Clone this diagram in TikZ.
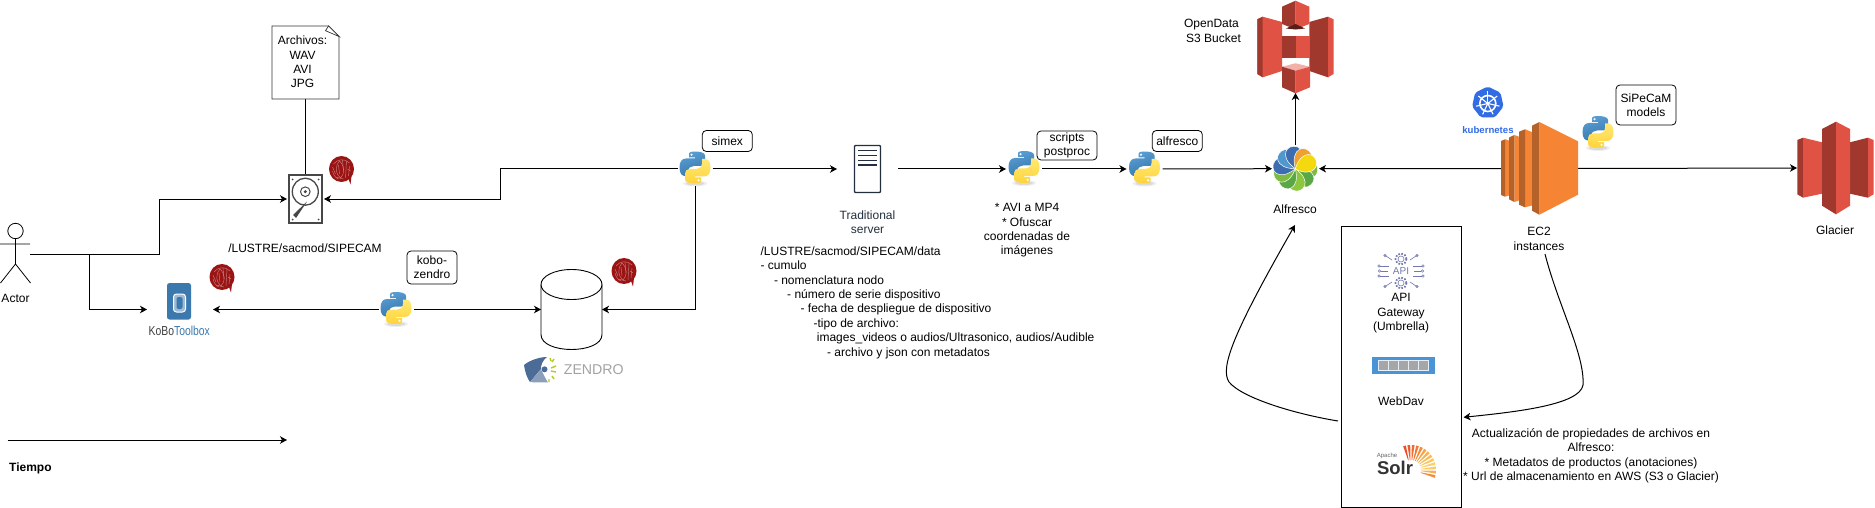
\documentclass[tikz,border=0pt]{standalone}
\usepackage{fontspec}
\usepackage{graphicx}
\setmainfont{Liberation Sans}
\usetikzlibrary{arrows.meta}
\definecolor{awsr}{HTML}{E05243}
\definecolor{awsd}{HTML}{A0382E}
\definecolor{awsp}{HTML}{F2B0A8}
\definecolor{ecl}{HTML}{F58534}
\definecolor{ecd}{HTML}{B5622A}
\definecolor{navy}{HTML}{232F3E}
\definecolor{pyb}{HTML}{3776AB}
\definecolor{pybl}{HTML}{5A9FD4}
\definecolor{pyy}{HTML}{FFD43B}
\definecolor{pyyl}{HTML}{FFE873}
\definecolor{seal}{HTML}{9A1414}
\definecolor{kobo}{HTML}{3B78AE}
\definecolor{kube}{HTML}{326CE5}
\definecolor{apic}{HTML}{7478AE}
\definecolor{wd}{HTML}{4A94D6}
\definecolor{zbl}{HTML}{4C6C98}
\definecolor{zgr}{HTML}{B5CC18}
\definecolor{alfA}{HTML}{4F97CC}
\definecolor{alfB}{HTML}{3D6CB0}
\definecolor{alfC}{HTML}{F0A030}
\definecolor{alfD}{HTML}{F5D90F}
\definecolor{alfE}{HTML}{8DC63F}
\definecolor{alfF}{HTML}{5AA845}
\definecolor{alfG}{HTML}{7DBB42}
\tikzset{
  txt/.style={font=\fontsize{12}{14.4}\selectfont,align=center,inner sep=0pt,text=black,yshift=-1pt},
  lbl/.style={draw=black,line width=.8pt,rounded corners=4pt,font=\fontsize{12}{14.4}\selectfont,align=center,inner sep=0pt},
  hit/.style={inner sep=0pt,outer sep=0pt,minimum width=#1},
  conn/.style={line width=1pt,draw=black},
  arr/.style={conn,-{Stealth[length=7pt,width=7.5pt,inset=2pt]}},
  petal/.style={line width=.5pt,draw=white}
}
\newcommand{\pyicon}[2]{%
  \begin{scope}[shift={(#1,#2)}]
    \fill[gray,opacity=.12] (0,16) ellipse (12 and 3);
    \fill[gray,opacity=.18] (0,16) ellipse (9 and 2);
    \shade[left color=pybl,right color=pyb,shading angle=20]
      (-1,-16) .. controls (-7,-16) and (-6,-13) .. (-6,-13) -- (-6,-10) -- (0,-10) -- (0,-9) -- (-9,-9)
      .. controls (-13,-9) and (-15.5,-6) .. (-15.5,0) .. controls (-15.5,6) and (-13,8.5) .. (-10,8.5) -- (-7,8.5) -- (-7,4.5)
      .. controls (-7,0) and (-4,-1.5) .. (-1,-1.5) -- (5,-1.5) .. controls (8,-1.5) and (10,-3) .. (10,-6) -- (10,-12)
      .. controls (10,-15) and (5,-16) .. (-1,-16) -- cycle;
    \fill[white] (-3.5,-12.8) circle (1.2);
    \shade[top color=pyyl,bottom color=pyy]
      (1,16) .. controls (7,16) and (6,13) .. (6,13) -- (6,10) -- (0,10) -- (0,9) -- (9,9)
      .. controls (13,9) and (15.5,6) .. (15.5,0) .. controls (15.5,-6) and (13,-8.5) .. (10,-8.5) -- (7,-8.5) -- (7,-4.5)
      .. controls (7,0) and (4,1.5) .. (1,1.5) -- (-5,1.5) .. controls (-8,1.5) and (-10,3) .. (-10,6) -- (-10,12)
      .. controls (-10,15) and (-5,16) .. (1,16) -- cycle;
    \fill[white] (3.5,12.8) circle (1.2);
  \end{scope}}
\newcommand{\sealicon}[2]{%
  \begin{scope}[shift={(#1,#2)}]
    \fill[seal] (0,0) ellipse (12.5 and 13);
    \fill[seal] (7,10) -- (9,15.5) -- (10,7) -- cycle;
    \begin{scope}[draw=white!45!seal,line width=.45pt]
    \draw (-8,-5) .. controls (-4,-10) and (3,-11) .. (8,-6);
    \draw (-2,-8) .. controls (-7,-2) and (-6,5) .. (-1,9) .. controls (3,5) and (4,-2) .. (-2,-8);
    \draw (5,-8) -- (4,9);
    \draw (-9,2) .. controls (-8,6) and (-6,9) .. (-3,10);
    \draw (8,-3) -- (7,7);
    \draw (-9,-2) -- (-6,5) (-3,-4) -- (-2,5) (1,-9) -- (2,2) (6,0) -- (9,2) (-6,8) -- (2,10);
    \end{scope}
  \end{scope}}
\newcommand{\petalat}[2]{%
  \fill[#1,petal,rotate around={#2:(1295.3,168.7)}]
    (1295.3,168.7) .. controls (1297,177) and (1306,186) .. (1314,180)
    .. controls (1322,172) and (1314,158) .. (1295.3,168.7) -- cycle;}
\begin{document}
\begin{tikzpicture}[x=1pt,y=-1pt]
\useasboundingbox (0,0) rectangle (1875,508);
\fill[white] (0,0) rectangle (1875,508);

% ---------- invisible anchor nodes
\node[hit=29,minimum height=20] (actor) at (15.5,254) {};
\node[hit=37,minimum height=49] (hdd) at (305.5,199) {};
\node[hit=67,minimum height=73] (doc) at (305.5,62.5) {};
\node[hit=66,minimum height=30] (koboN) at (180,309.5) {};
\node[hit=35,minimum height=34] (pyK) at (396.5,309.5) {};
\node[hit=61,minimum height=80] (cyl) at (571.5,309.5) {};
\node[hit=35,minimum height=34] (pyS) at (695,169) {};
\node[hit=61,minimum height=48] (srv) at (867.5,169) {};
\node[hit=36,minimum height=34] (pyP) at (1024,169) {};
\node[hit=36,minimum height=34] (pyA) at (1144.5,169) {};
\node[hit=47,minimum height=47] (alf) at (1295.5,168.7) {};
\node[hit=77,minimum height=92] (s3) at (1295.5,47) {};
\node[hit=77,minimum height=92] (ec2) at (1539.5,168.5) {};
\node[hit=77,minimum height=92] (gla) at (1835.5,168) {};
\coordinate (junc) at (89,254);
\coordinate (bend) at (159,254);
\coordinate (time0) at (7.5,440);
\coordinate (time1) at (287,440);
\coordinate (boxOut) at (1338,421);
\coordinate (alfIn) at (1295,225);
\coordinate (ec2Out) at (1545,254);
\coordinate (boxIn) at (1463.5,417.3);

% ---------- connectors
\draw[conn] (doc.south) -- (hdd.north);
\draw[arr] (actor.east) -- (bend) |- (hdd.west);
\draw[arr] (junc) |- (koboN.west);
\draw[arr] (pyS.west) -- (500,169) -- (500,199) -- (hdd.east);
\draw[arr] (pyK.west) -- (koboN.east);
\draw[arr] (pyK.east) -- (cyl.west);
\draw[arr] (pyS.south) |- (cyl.east);
\draw[arr] (pyS.east) -- (srv.west);
\draw[arr] (srv.east) -- (pyP.west);
\draw[arr] (pyP.east) -- (pyA.west);
\draw[arr] (pyA.east) -- (alf.west);
\draw[arr] (alf.north) -- (s3.south);
\draw[arr] (ec2.west) -- (alf.east);
\draw[arr] (ec2.east) -- (gla.west);
\draw[arr] (time0) -- (time1);
\draw[arr] (boxOut) .. controls (1295,414) and (1242,398) .. (1229,382) .. controls (1220,368) and (1232,335) .. (alfIn);
\draw[arr] (ec2Out) .. controls (1558,305) and (1585,355) .. (1583,385) .. controls (1580,405) and (1515,412) .. (boxIn);

% ---------- actor
\draw[line width=.8pt] (15.5,231) circle (7.7);
\draw[line width=.8pt] (15.5,239) -- (15.5,264) (0,244) -- (30,244) (15.5,264) -- (0.5,283) (15.5,264) -- (30.5,283);
\node[txt] at (15.5,297.5) {Actor};

% ---------- document
\draw[line width=.9pt,draw=black!80,fill=white] (272,26) -- (328.5,26) -- (339,36.5) -- (339,99) -- (272,99) -- cycle;
\draw[line width=.7pt,draw=black!80,fill=white] (328.5,26) -- (325.5,30.7) -- (339,36.5) -- cycle;
\node[txt] at (302.5,61) {Archivos:\\WAV\\AVI\\JPG};

% ---------- hdd
\draw[line width=1.6pt,draw=black!72,fill=white] (289,175) rectangle (322,223);
\draw[line width=1.3pt,draw=black!72] (305.3,191.7) ellipse (13 and 13.5);
\draw[line width=1pt,draw=black!72] (305.3,191.7) circle (4.8);
\fill[black!72] (305.3,191.7) circle (1.7);
\fill[black!72] (307,201.5) -- (293,215) -- (296,218) -- cycle;
\foreach \p/\q in {292.5/179.5,318.5/179.5,292.5/219.5,318.5/219.5}{\fill[black!72] (\p,\q) circle (1);}
\sealicon{341.5}{169}
\node[txt] at (305,247) {/LUSTRE/sacmod/SIPECAM};

% ---------- kobo
\fill[kobo] (167,283) [rounded corners=2.5pt] rectangle (191,319.5);
\draw[white,line width=1pt,fill=kobo!50!white,rounded corners=3pt] (173.5,294) rectangle (185.5,312);
\fill[kobo,rounded corners=2pt] (176.5,297) rectangle (182.5,309);
\sealicon{222}{277}
\node[inner sep=0pt] at (179.3,331) {\scalebox{.8}[1]{\fontsize{13}{14}\selectfont\textcolor{black!75}{KoBo}\textcolor{kobo}{Toolbox}}};

% ---------- python + labels
\pyicon{396}{308}
\node[lbl,minimum width=50,minimum height=33] (lblK) at (432,267.5) {kobo-\\zendro};
\pyicon{695}{167.5}
\node[lbl,minimum width=50,minimum height=21] (lblS) at (727.3,141) {simex};
\pyicon{1024}{167}
\node[lbl,minimum width=60,minimum height=29] (lblP) at (1067,145.5) {scripts\\postproc};
\pyicon{1144.5}{167.5}
\node[lbl,minimum width=50,minimum height=21] (lblA) at (1177.3,141) {alfresco};
\pyicon{1598}{132}
\node[lbl,minimum width=60,minimum height=40] (lblM) at (1646,105) {SiPeCaM\\models};

% ---------- cylinder
\draw[line width=.9pt,fill=white] (541,284.5) -- (541,334.5) .. controls (541,354.5) and (602,354.5) .. (602,334.5) -- (602,284.5);
\draw[line width=.9pt,fill=white] (571.5,284.5) ellipse (30.5 and 15);
\sealicon{624}{271}
\fill[zbl] (524,365) .. controls (530,360) and (540,357) .. (547,357) .. controls (542,361) and (541,365) .. (541,369) -- (530,382) .. controls (527,378) and (525,372) .. (524,365) -- cycle;
\fill[zbl!65!white] (530,382) -- (541,369.5) .. controls (543,373) and (545,378) .. (548,382.5) .. controls (542,382) and (536,383) .. (530,382) -- cycle;
\fill[zbl] (544.5,369.3) circle (3);
\draw[zgr,line width=1.4pt] (552,362) -- (554,359) (551,368) -- (556,366) (551,371) -- (556,372) (552,376) -- (554,379) (549,379) -- (549,382) (551,361) -- (550,358);
\node[inner sep=0pt,text=black!36] at (593.8,369.5) {\fontsize{14.2}{15}\selectfont ZENDRO};

% ---------- server
\draw[navy,line width=1.4pt,fill=white,rounded corners=.8pt] (854.5,145.5) rectangle (880.5,192.5);
\foreach \q in {150.5,155.5,160.5,165}{\draw[navy,line width=1.5pt] (858,\q) -- (877,\q);}
\node[txt,text=navy] at (867.5,221) {Traditional\\server};

\node[txt,align=left,anchor=north west] at (760.4,245.5) {/LUSTRE/sacmod/SIPECAM/data\\
- cumulo\\
\hspace*{13.4pt}- nomenclatura nodo\\
\hspace*{26.6pt}- número de serie dispositivo\\
\hspace*{40pt}- fecha de despliegue de dispositivo\\
\hspace*{53pt}-tipo de archivo:\\
\hspace*{56.3pt}images\_videos o audios/Ultrasonico, audios/Audible\\
\hspace*{66.5pt}- archivo y json con metadatos};
\node[txt] at (1027,229.5) {* AVI a MP4\\* Ofuscar\\coordenadas de\\imágenes};
\node[txt] at (1211.5,30) {OpenData\\\hspace*{4pt}S3 Bucket};

% ---------- s3
\fill[awsr] (1257.3,19.3) -- (1262.7,16.7) -- (1282,22) -- (1282,71) -- (1262.7,77.3) -- (1257.3,74) -- cycle;
\fill[awsd] (1257.3,19.3) -- (1262.7,16.7) -- (1262.7,77.3) -- (1257.3,74) -- cycle;
\fill[awsd] (1309.3,22) -- (1328,16.7) -- (1328,77.3) -- (1309.3,71) -- cycle;
\fill[awsr] (1328,16.7) -- (1333.5,19.3) -- (1333.5,74) -- (1328,77.3) -- cycle;
\fill[awsd] (1282,6.7) -- (1295.5,.7) -- (1295.5,29.3) -- (1282,24) -- cycle;
\fill[awsr] (1295.5,.7) -- (1309.3,6.7) -- (1309.3,24) -- (1295.5,29.3) -- cycle;
\fill[black!45!awsd] (1286,28.5) -- (1295.5,24) -- (1305,28.5) -- (1295.5,29.5) -- cycle;
\fill[awsd] (1282,36) -- (1295.5,36) -- (1295.5,58) -- (1282,58) -- cycle;
\fill[awsr] (1295.5,36) -- (1310,36) -- (1310,58) -- (1295.5,58) -- cycle;
\fill[awsp] (1282,66.7) -- (1295.5,63.3) -- (1310,66.7) -- (1295.5,70.7) -- cycle;
\fill[awsd] (1282,66.7) -- (1295.5,70.7) -- (1295.5,93.3) -- (1282,87.3) -- cycle;
\fill[awsr] (1295.5,70.7) -- (1310,66.7) -- (1310,87.3) -- (1295.5,93.3) -- cycle;

% ---------- alfresco
\petalat{alfG}{15}
\petalat{alfF}{-25}
\petalat{alfE}{-65}
\petalat{alfF}{-105}
\petalat{alfG}{-140}
\petalat{alfB}{190}
\petalat{alfA}{150}
\petalat{alfB}{115}
\petalat{alfC}{75}
\petalat{alfD}{43}
\node[txt] at (1295,208.5) {Alfresco};

% ---------- kubernetes
\fill[kube,rounded corners=2pt] (1487.8,86.5) -- (1500.5,92.7) -- (1503.5,106.5) -- (1494.8,117.5) -- (1480.8,117.5) -- (1472.1,106.5) -- (1475.1,92.7) -- cycle;
\draw[white,line width=1.6pt] (1487.8,103.5) circle (8);
\fill[white] (1487.8,103.5) circle (1.8);
\foreach \a in {0,51.4,...,308.5}{\draw[white,line width=1.1pt] (1487.8,103.5) -- ++(\a-90:12);}
\node[inner sep=0pt,text=kube] at (1488,130.5) {\fontsize{9.6}{10}\selectfont\bfseries kubernetes};

% ---------- ec2
\fill[ecl] (1505,139.3) -- (1509,140.5) -- (1509,195.5) -- (1505,196.7) -- cycle;
\fill[ecd] (1501,141) -- (1505,139.3) -- (1505,196.7) -- (1501,195) -- cycle;
\fill[ecl] (1514.3,135) -- (1519,136.7) -- (1519,200.5) -- (1514.3,202) -- cycle;
\fill[ecd] (1509,137.5) -- (1514.3,135) -- (1514.3,202) -- (1509,199.3) -- cycle;
\fill[ecl] (1525,129.3) -- (1532,132) -- (1532,205.5) -- (1525,207.3) -- cycle;
\fill[ecd] (1519,131.7) -- (1525,129.3) -- (1525,207.3) -- (1519,204.7) -- cycle;
\fill[ecl] (1539.3,122) -- (1578,141.3) -- (1578,194.7) -- (1539.3,214.7) -- cycle;
\fill[ecd] (1532,125.7) -- (1539.3,122) -- (1539.3,214.7) -- (1532,210.7) -- cycle;
\node[txt] at (1539,238) {EC2\\instances};

% ---------- glacier
\fill[awsd] (1797.3,140) -- (1803,137.7) -- (1803,197.7) -- (1797.3,194.3) -- cycle;
\fill[awsr] (1803,137.7) -- (1822,142.3) -- (1822,193.7) -- (1803,197.7) -- cycle;
\fill[awsd] (1850,142.3) -- (1868,137.7) -- (1868,197.7) -- (1850,193.7) -- cycle;
\fill[awsr] (1868,137.7) -- (1873.5,140) -- (1873.5,194.3) -- (1868,197.7) -- cycle;
\fill[awsd] (1822,129) -- (1836,121.7) -- (1836,214.3) -- (1822,205.7) -- cycle;
\fill[awsr] (1836,121.7) -- (1850,129) -- (1850,205.7) -- (1836,214.3) -- cycle;
\node[txt] at (1835,229) {Glacier};

% ---------- services box
\node[draw=black,line width=1pt,inner sep=0pt,minimum width=120,minimum height=280.5] (boxS) at (1401.5,367.2) {};
\begin{scope}[apic,line width=.6pt]
  \draw (1401,259) circle (3);
  \draw[line width=1.8pt,dash pattern=on 1.6pt off 1.6pt] (1401,259) circle (5.5);
  \draw (1401,283) circle (3);
  \draw[line width=1.8pt,dash pattern=on 1.6pt off 1.6pt] (1401,283) circle (5.5);
  \draw (1380,266) -- (1389,266) (1381,271) -- (1388,271) (1380,276) -- (1389,276);
  \draw (1413,266) -- (1422,266) (1414,271) -- (1421,271) (1413,276) -- (1422,276);
  \draw (1379,266) circle (1.2) (1379,276) circle (1.2) (1379.5,271) circle (1.2);
  \draw (1423,266) circle (1.2) (1423,276) circle (1.2) (1422.5,271) circle (1.2);
  \draw (1392,260) -- (1386,256) (1410,260) -- (1416,256) (1392,282) -- (1386,286) (1410,282) -- (1416,286);
  \draw (1385,255.5) circle (1.1) (1417,255.5) circle (1.1) (1385,286.5) circle (1.1) (1417,286.5) circle (1.1);
\end{scope}
\node[inner sep=0pt,text=apic] at (1401,271) {\fontsize{10}{10}\selectfont API};
\node[txt] at (1401,312.5) {API\\Gateway\\(Umbrella)};
\fill[wd] (1371.5,357.3) rectangle (1435,373.7);
\fill[white!85!wd] (1378,360) rectangle (1428.5,370.5);
\foreach \p in {1379,1389,1399,1409,1419}{\fill[black!35] (\p,361) rectangle ++(8.6,8.5);}
\node[txt] at (1401,400) {WebDav};
\node[inner sep=0pt,text=black!60] at (1387,455.5) {\fontsize{6}{6}\selectfont Apache};
\foreach \a/\c in {-105/E8502A,-95/EA5C2C,-85/EE6A30,-75/F07A34,-65/F28A3A,-55/F5A545,-45/F7B24E,-35/F8BC55,-25/FAC860,-15/FBD070,-5/FBCB68,5/F9B050,15/F48A3A}{
  \definecolor{rayc}{HTML}{\c}
  \fill[rayc] ({1411+10*cos(\a-1.5)},{470+10*sin(\a-1.5)}) -- ({1411+25*cos(\a-3.2)},{470+25*sin(\a-3.2)}) -- ({1411+25*cos(\a+3.2)},{470+25*sin(\a+3.2)}) -- ({1411+10*cos(\a+1.5)},{470+10*sin(\a+1.5)}) -- cycle;
}
\node[inner sep=0pt,text=black!80] at (1395,467.5) {\fontsize{18.5}{19}\selectfont\bfseries Solr};

% ---------- text
\node[txt] at (1591,455) {Actualización de propiedades de archivos en\\Alfresco:\\* Metadatos de productos (anotaciones)\\* Url de almacenamiento en AWS (S3 o Glacier)};
\node[txt,anchor=west,font=\fontsize{12}{14.4}\selectfont\bfseries] at (9,467) {Tiempo};
\end{tikzpicture}
\end{document}
